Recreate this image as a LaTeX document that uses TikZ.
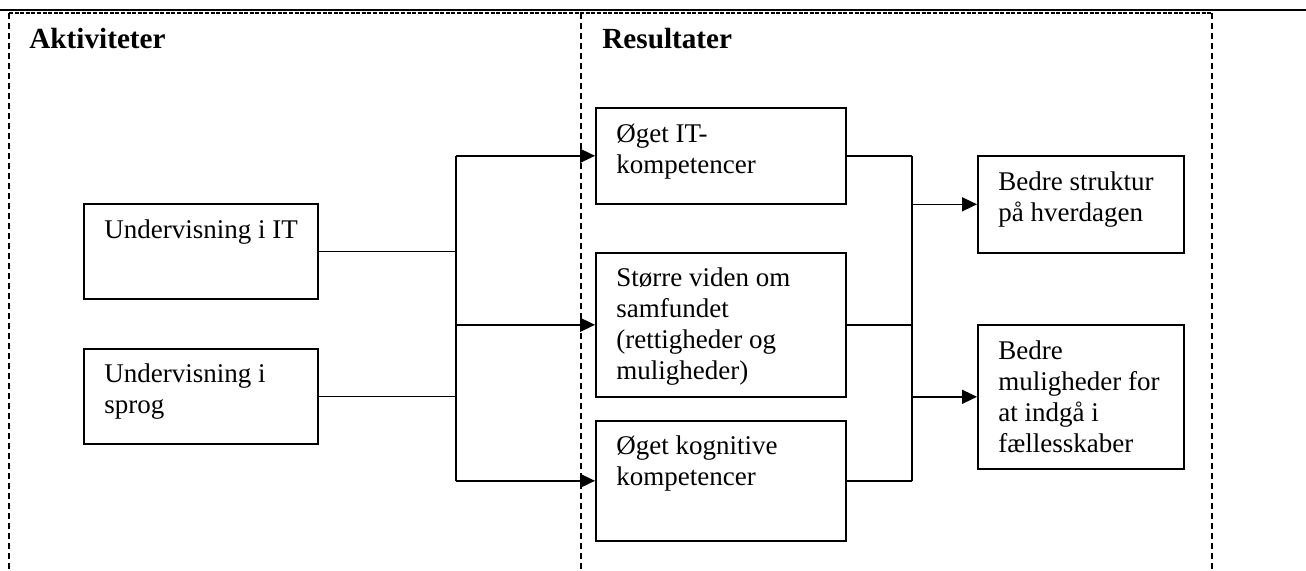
\documentclass[tikz,border=0pt]{standalone}
\usepackage{fontspec}
\setmainfont{Liberation Serif}
\usetikzlibrary{arrows.meta,calc}
\begin{document}
\begin{tikzpicture}[x=0.5pt,y=-0.5pt,
  box/.style={draw,line width=0.8pt,anchor=north west,inner sep=0pt},
  txt/.style={anchor=base west,inner sep=0pt,font=\fontsize{13.5}{15.5}\selectfont},
  head/.style={anchor=base west,inner sep=0pt,font=\fontsize{14.6}{16.5}\selectfont\bfseries},
  conn/.style={line width=0.8pt},
  arr/.style={line width=0.8pt,-{Triangle[length=7.5pt,width=7pt]}},
  frame/.style={line width=0.6pt,dash pattern=on 3.2pt off 1.8pt},
  topdash/.style={line width=0.8pt,dash pattern=on 2pt off 0.8pt}]
\useasboundingbox (0,0) rectangle (1306,570);
% frame
\draw[line width=1pt] (0,10) -- (1306,10);
\draw[topdash] (9,13) -- (1212,13);
\draw[frame] (9,13) -- (9,572);
\draw[frame] (581,13) -- (581,572);
\draw[frame] (1212,13) -- (1212,572);
% headings
\node[head] (h1) at (29,48) {Aktiviteter};
\node[head] (h2) at (602,48) {Resultater};
% boxes
\node[box,minimum width=117pt,minimum height=47.5pt] (u1) at (83,203) {};
\node[box,minimum width=117pt,minimum height=47.5pt] (u2) at (83,348) {};
\node[box,minimum width=125pt,minimum height=48pt] (r1) at (595,107) {};
\node[box,minimum width=125pt,minimum height=72pt] (r2) at (595,252) {};
\node[box,minimum width=125pt,minimum height=60pt] (r3) at (595,420) {};
\node[box,minimum width=103pt,minimum height=48.5pt] (o1) at (977,155) {};
\node[box,minimum width=103pt,minimum height=72pt] (o2) at (977,324) {};
% texts
\node[txt] (tu1) at (104,238) {\begin{tabular}[t]{@{}l@{}}Undervisning i IT\end{tabular}};
\node[txt] (tu2) at (104,382) {\begin{tabular}[t]{@{}l@{}}Undervisning i\\sprog\end{tabular}};
\node[txt] (tr1) at (616,142) {\begin{tabular}[t]{@{}l@{}}Øget IT-\\kompetencer\end{tabular}};
\node[txt] (tr2) at (616,286) {\begin{tabular}[t]{@{}l@{}}Større viden om\\samfundet\\(rettigheder og\\muligheder)\end{tabular}};
\node[txt] (tr3) at (616,454) {\begin{tabular}[t]{@{}l@{}}Øget kognitive\\kompetencer\end{tabular}};
\node[txt] (to1) at (998,190) {\begin{tabular}[t]{@{}l@{}}Bedre struktur\\på hverdagen\end{tabular}};
\node[txt] (to2) at (998,359) {\begin{tabular}[t]{@{}l@{}}Bedre\\muligheder for\\at indgå i\\fællesskaber\end{tabular}};
% connectors
\coordinate (lx) at (456,0);
\coordinate (rx) at (912,0);
\draw[conn] (r1.west -| lx) -- (r3.west -| lx);
\draw[conn] (u1.east) -- (u1.east -| lx);
\draw[conn] (u2.east) -- (u2.east -| lx);
\draw[arr] (r1.west -| lx) -- (r1.west);
\draw[arr] (r2.west -| lx) -- (r2.west);
\draw[arr] (r3.west -| lx) -- (r3.west);
\draw[conn] (r1.east -| rx) -- (r3.east -| rx);
\draw[conn] (r1.east) -- (r1.east -| rx);
\draw[conn] (r2.east) -- (r2.east -| rx);
\draw[conn] (r3.east) -- (r3.east -| rx);
\draw[arr] (o1.west -| rx) -- (o1.west);
\draw[arr] (o2.west -| rx) -- (o2.west);
\end{tikzpicture}
\end{document}
